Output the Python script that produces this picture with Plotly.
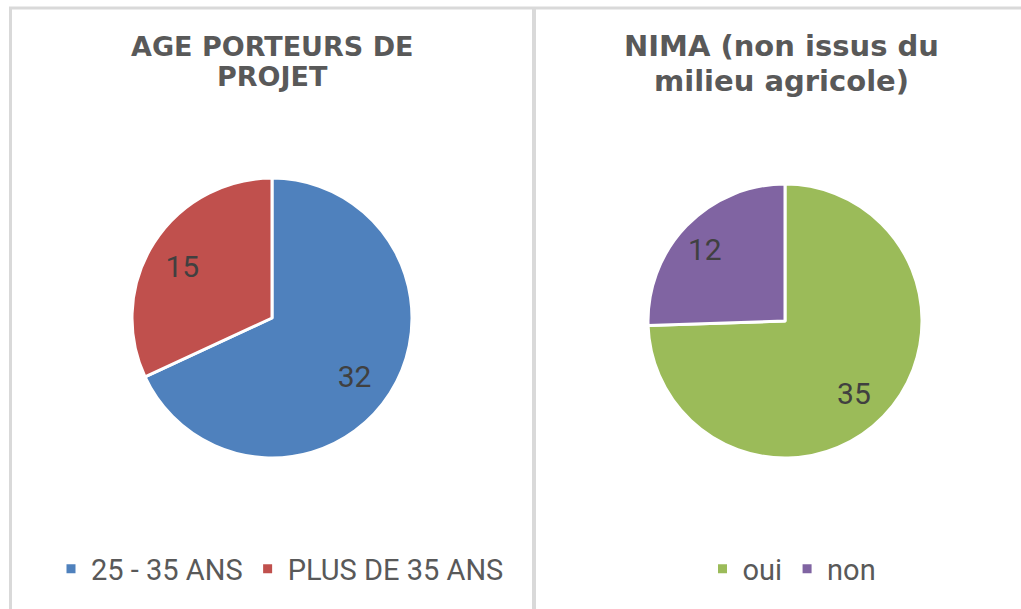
import plotly.graph_objects as go

# Data
age_labels = ["25 - 35 ANS", "PLUS DE 35 ANS"]
age_values = [32, 15]
age_colors = ["#4F81BD", "#C0504D"]

nima_labels = ["oui", "non"]
nima_values = [35, 12]
nima_colors = ["#9BBB59", "#8064A2"]

title_left = ["AGE PORTEURS DE", "PROJET"]
title_right = ["NIMA (non issus du", "milieu agricole)"]

W, H = 1021, 609

def px_x(v):
    return v / W

def px_y(v):
    return 1 - v / H

def domain(cx, cy, r):
    return dict(x=[px_x(cx - r), px_x(cx + r)], y=[px_y(cy + r), px_y(cy - r)])

label_font = dict(family="Roboto, Arial", size=30, color="#404040")
legend_font = dict(family="Roboto, Arial", size=29, color="#595959")

fig = go.Figure()

for labels, values, colors, (cx, cy, r), lg in [
    (age_labels, age_values, age_colors, (272, 318, 140), "legend"),
    (nima_labels, nima_values, nima_colors, (785, 321, 137), "legend2"),
]:
    fig.add_trace(go.Pie(
        labels=labels, values=values,
        marker=dict(colors=colors, line=dict(color="white", width=3)),
        sort=False, direction="clockwise", rotation=0,
        textinfo="none",
        domain=domain(cx, cy, r),
        legend=lg, hoverinfo="label+value",
    ))
    # transparent, larger pie carrying the value labels further out (Excel-like placement)
    fig.add_trace(go.Pie(
        labels=labels, values=values,
        marker=dict(colors=["rgba(0,0,0,0)"] * len(values), line=dict(width=0)),
        sort=False, direction="clockwise", rotation=0,
        textinfo="value", textposition="inside", insidetextorientation="horizontal",
        textfont=label_font,
        domain=domain(cx, cy + 6, r * 1.40),
        showlegend=False, hoverinfo="skip",
    ))

title_font_l = dict(family="DejaVu Sans, Arial", size=27, color="#595959", weight="bold")
title_font_r = dict(family="DejaVu Sans, Arial", size=29, color="#595959", weight="bold")

annotations = []
for t, yb in zip(title_left, [57, 87]):
    annotations.append(dict(text=t, x=px_x(272), y=px_y(yb + 7), xref="paper", yref="paper",
                            xanchor="center", yanchor="bottom", showarrow=False, font=title_font_l))
for t, yb in zip(title_right, [58, 93]):
    annotations.append(dict(text=t, x=px_x(781), y=px_y(yb + 7), xref="paper", yref="paper",
                            xanchor="center", yanchor="bottom", showarrow=False, font=title_font_r))

border = "#D9D9D9"
shapes = [
    dict(type="line", xref="paper", yref="paper", x0=px_x(9), x1=1, y0=px_y(8), y1=px_y(8),
         line=dict(color=border, width=3)),
    dict(type="line", xref="paper", yref="paper", x0=px_x(10.5), x1=px_x(10.5), y0=px_y(7), y1=0,
         line=dict(color=border, width=3)),
    dict(type="line", xref="paper", yref="paper", x0=px_x(534), x1=px_x(534), y0=px_y(7), y1=0,
         line=dict(color=border, width=4)),
]

fig.update_layout(
    width=W, height=H,
    margin=dict(l=0, r=0, t=0, b=0),
    paper_bgcolor="white", plot_bgcolor="white",
    annotations=annotations, shapes=shapes,
    legend=dict(orientation="h", x=px_x(280), xanchor="center", y=px_y(569), yanchor="middle",
                font=legend_font, bgcolor="rgba(0,0,0,0)"),
    legend2=dict(orientation="h", x=px_x(792), xanchor="center", y=px_y(569), yanchor="middle",
                 font=legend_font, bgcolor="rgba(0,0,0,0)"),
)

fig.write_html("out.html", config={"displayModeBar": False},
               post_script="document.body.style.margin='0';")
